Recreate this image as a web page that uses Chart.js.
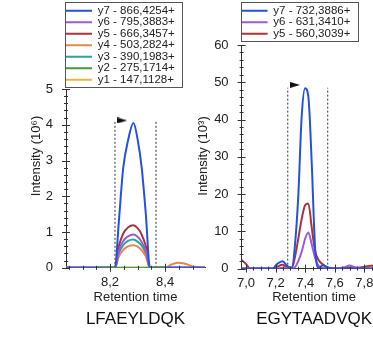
<!DOCTYPE html>
<html>
<head>
<meta charset="utf-8">
<script src="https://cdn.jsdelivr.net/npm/chart.js@4"></script>
<style>
  html, body { margin: 0; padding: 0; background: #fff; overflow: hidden; width: 373px; height: 337px; }
  canvas { position: absolute; top: 0; }
  #chartA { left: 0; }
  #chartB { left: 190px; }
</style>
</head>
<body>
<canvas id="chartA" width="215" height="337"></canvas>
<canvas id="chartB" width="210" height="337"></canvas>
<script>
const FONT = "'Liberation Sans', Arial, sans-serif";

// --- LFAEYLDQK (intensity x 10^6) ---
const ionsA = ['y7 - 866,4254+', 'y6 - 795,3883+', 'y5 - 666,3457+', 'y4 - 503,2824+',
               'y3 - 390,1983+', 'y2 - 275,1714+', 'y1 - 147,1128+'];
const timeA = [8.04, 8.10, 8.16, 8.20, 8.218, 8.232, 8.248, 8.265, 8.285, 8.300,
               8.315, 8.330, 8.345, 8.36, 8.40, 8.42, 8.445, 8.47, 8.50, 8.55];
const y7A = [0, 0, 0, 0, 0, 1.3, 2.8, 3.55, 4.05, 3.6, 2.8, 1.5, 0, 0, 0, 0, 0, 0, 0, 0];
const y6A = [0, 0, 0, 0, 0, 0.47, 0.75, 0.88, 0.93, 0.87, 0.72, 0.47, 0, 0, 0, 0, 0, 0, 0, 0];
const y5A = [0, 0, 0, 0, 0, 0.6, 0.96, 1.13, 1.19, 1.11, 0.93, 0.6, 0, 0, 0, 0, 0, 0, 0, 0];
const y4A = [0, 0, 0, 0, 0, 0.32, 0.5, 0.6, 0.63, 0.59, 0.49, 0.32, 0, 0, 0, 0.08, 0.14, 0.12, 0.04, 0];
const y3A = [0, 0, 0, 0, 0, 0.4, 0.63, 0.75, 0.79, 0.73, 0.62, 0.4, 0, 0, 0, 0, 0, 0, 0, 0];
const y2A = [null, null, 0, 0, 0, 0, 0, 0, 0, 0, 0, 0, 0, 0, 0, null, null, null, null, null];
const y1A = [0, 0, 0, 0, 0, 0, 0, 0, 0, 0, 0, 0, 0, 0, 0, 0, 0, 0, 0, 0];
const boundsA = [8.218, 8.367];
const boundTopA = 4.1;
const apexA = [8.244, 4.12];

// --- EGYTAADVQK (intensity x 10^3) ---
const ionsB = ['y7 - 732,3886+', 'y6 - 631,3410+', 'y5 - 560,3039+'];
const timeB = [6.97, 7.00, 7.03, 7.10, 7.18, 7.21, 7.245, 7.28, 7.31, 7.33, 7.353, 7.376, 7.399,
               7.421, 7.444, 7.466, 7.49, 7.52, 7.55, 7.60, 7.66, 7.70, 7.74, 7.80, 7.86, 7.95];
const y7B = [0, 0, 0, 0, 0, 1.2, 2.0, 0.7, 0, 6, 19.4, 40.8, 48.4,
             46.2, 28.3, 6.0, 0.2, 0.9, 0.3, 0, 0, 0, 0, 0, 0, 0];
const y6B = [0, 0, 0, 0, 0, 0, 0.2, 0, 0, 0.3, 2.0, 4.5, 8.0,
             9.7, 6.5, 3.0, 0.7, 0.2, 0, 0, 0.3, 0.8, 0.3, 0, 0, 0];
const y5B = [2.3, 1.2, 0, 0, 0, 0.5, 1.0, 0.4, 0.3, 3.0, 8.0, 13.3, 17.0,
             17.5, 11.0, 4.8, 2.3, 1.1, 0.3, 0, 0.2, 0.3, 0.2, 0.5, 0.8, 0];
const boundsB = [7.282, 7.552];
const boundTopB = 48.5;
const apexB = [7.331, 49.3];

const colorsA = ['#2451e0', '#9a5bd8', '#a8353c', '#e08a4c', '#2ea3a0', '#3f9b3c', '#eeb43c'];
const colorsB = ['#2451e0', '#9a5bd8', '#a8353c'];

// small black flag used to mark the apex
const flag = document.createElement('canvas');
flag.width = 10;
flag.height = 6;
const fctx = flag.getContext('2d');
fctx.fillStyle = '#111';
fctx.beginPath();
fctx.moveTo(0, 0);
fctx.lineTo(10, 3);
fctx.lineTo(0, 6);
fctx.closePath();
fctx.fill();

function xy(times, vals) {
    return times.map((t, i) => ({ x: t, y: vals[i] }));
}

function ionSet(label, color, times, vals, extra) {
    return Object.assign({
        label: label,
        data: xy(times, vals),
        borderColor: color,
        backgroundColor: color,
        borderWidth: 2,
        pointRadius: 0,
        cubicInterpolationMode: 'monotone',
        spanGaps: false,
    }, extra || {});
}

function boundSet(t, top) {
    return {
        label: '',
        data: [{ x: t, y: 0 }, { x: t, y: top }],
        borderColor: '#333',
        borderWidth: 1,
        borderDash: [2, 2],
        pointRadius: 0,
    };
}

function apexSet(p) {
    return {
        label: '',
        data: [{ x: p[0], y: p[1] }],
        pointStyle: flag,
        pointRadius: 5,
        showLine: false,
    };
}

// tick marks crossing the axes, major and minor
const tickMarks = {
    id: 'tickMarks',
    afterDraw(chart, args, o) {
        const { ctx } = chart;
        const { x, y } = chart.scales;
        const walk = (scale, minor, major, fn) => {
            const n0 = Math.ceil(scale.min / minor - 1e-6);
            const n1 = Math.floor(scale.max / minor + 1e-6);
            for (let n = n0; n <= n1; n++) {
                const v = n * minor;
                const isMajor = Math.abs(v / major - Math.round(v / major)) < 1e-6;
                fn(Math.round(scale.getPixelForValue(v)) + 0.5, isMajor ? 4 : 2);
            }
        };
        ctx.save();
        ctx.strokeStyle = '#333';
        ctx.lineWidth = 1;
        ctx.beginPath();
        walk(x, o.xMinor, o.xMajor, (px, len) => {
            ctx.moveTo(px, x.top - len);
            ctx.lineTo(px, x.top + len);
        });
        walk(y, o.yMinor, o.yMajor, (py, len) => {
            ctx.moveTo(y.right - len, py);
            ctx.lineTo(y.right + len, py);
        });
        ctx.stroke();
        ctx.restore();
    }
};

// border round the legend
const legendFrame = {
    id: 'legendFrame',
    afterDraw(chart) {
        const boxes = chart.legend && chart.legend.legendHitBoxes;
        if (!boxes || !boxes.length) return;
        const left = Math.min(...boxes.map(b => b.left)) - 1;
        const right = Math.max(...boxes.map(b => b.left + b.width)) + 7;
        const top = Math.min(...boxes.map(b => b.top)) - 3;
        const bottom = Math.max(...boxes.map(b => b.top + b.height)) + 1;
        const ctx = chart.ctx;
        ctx.save();
        ctx.strokeStyle = '#555';
        ctx.lineWidth = 1;
        ctx.strokeRect(Math.round(left) + 0.5, Math.round(top) + 0.5,
                       Math.round(right - left), Math.round(bottom - top));
        ctx.restore();
    }
};

// rotated y axis label
const yLabel = {
    id: 'yLabel',
    afterDraw(chart, args, o) {
        const ctx = chart.ctx;
        ctx.save();
        ctx.translate(o.x, o.y);
        ctx.rotate(-Math.PI / 2);
        ctx.font = '13px ' + FONT;
        ctx.fillStyle = '#222';
        ctx.textAlign = 'center';
        ctx.textBaseline = 'middle';
        ctx.fillText(o.text, 0, 0);
        ctx.restore();
    }
};

function makeChart(id, cfg) {
    return new Chart(document.getElementById(id), {
        type: 'line',
        data: { datasets: cfg.datasets },
        options: {
            responsive: false,
            animation: false,
            events: [],
            layout: { padding: { top: 5, left: 0, right: cfg.padRight, bottom: 0 } },
            scales: {
                x: {
                    type: 'linear',
                    min: cfg.xMin,
                    max: cfg.xMax,
                    afterFit: s => { s.height = cfg.xHeight; },
                    grid: { display: false, drawTicks: false },
                    border: { color: '#333', width: 1 },
                    ticks: {
                        stepSize: 0.2,
                        includeBounds: false,
                        autoSkip: false,
                        maxRotation: 0,
                        padding: 7,
                        color: '#222',
                        font: { size: 13, family: FONT },
                        callback: v => v.toFixed(1).replace('.', ','),
                    },
                    title: {
                        display: true,
                        text: 'Retention time',
                        color: '#222',
                        font: { size: 13, family: FONT },
                        padding: 0,
                    },
                },
                y: {
                    min: 0,
                    max: cfg.yMax,
                    afterFit: s => { s.width = cfg.yWidth; },
                    grid: { display: false, drawTicks: false },
                    border: { color: '#333', width: 1 },
                    ticks: {
                        stepSize: cfg.yStep,
                        padding: 13,
                        color: '#222',
                        font: { size: 13, family: FONT },
                    },
                },
            },
            plugins: {
                legend: {
                    position: 'top',
                    align: 'start',
                    fullSize: false,
                    maxHeight: cfg.legendHeight,
                    labels: {
                        usePointStyle: true,
                        pointStyle: 'line',
                        pointStyleWidth: 26,
                        padding: 0,
                        color: '#222',
                        font: { size: 11.5, family: FONT },
                        filter: item => item.text.length > 0,
                        sort: (a, b) => a.datasetIndex - b.datasetIndex,
                    },
                },
                title: {
                    display: true,
                    position: 'bottom',
                    fullSize: false,
                    text: cfg.title,
                    color: '#111',
                    font: { size: 17, weight: 'normal', family: FONT },
                    padding: { top: 4, bottom: 7 },
                },
                tooltip: { enabled: false },
                tickMarks: cfg.ticks,
                yLabel: cfg.yLabel,
            },
        },
        plugins: [tickMarks, legendFrame, yLabel],
    });
}

const seriesA = [y7A, y6A, y5A, y4A, y3A, y2A, y1A];
makeChart('chartA', {
    title: 'LFAEYLDQK',
    datasets: seriesA.map((vals, i) =>
        ionSet(ionsA[i], colorsA[i], timeA, vals, i === 5 ? { order: -1 } : {}))
        .concat(boundsA.map(t => boundSet(t, boundTopA)), [apexSet(apexA)]),
    xMin: 8.04, xMax: 8.545, xHeight: 37.8,
    yMax: 5, yStep: 1, yWidth: 66,
    padRight: 10, legendHeight: 84,
    ticks: { xMinor: 0.05, xMajor: 0.2, yMinor: 0.2, yMajor: 1 },
    yLabel: { text: 'Intensity (10⁶)', x: 36, y: 156 },
});

const seriesB = [y7B, y6B, y5B];
makeChart('chartB', {
    title: 'EGYTAADVQK',
    datasets: seriesB.map((vals, i) => ionSet(ionsB[i], colorsB[i], timeB, vals))
        .concat(boundsB.map(t => boundSet(t, boundTopB)), [apexSet(apexB)]),
    xMin: 6.97, xMax: 7.95, xHeight: 37.0,
    yMax: 60, yStep: 10, yWidth: 51.6,
    padRight: 13.4, legendHeight: 40,
    ticks: { xMinor: 0.05, xMajor: 0.2, yMinor: 2, yMajor: 10 },
    yLabel: { text: 'Intensity (10³)', x: 13, y: 156 },
});
</script>
</body>
</html>
